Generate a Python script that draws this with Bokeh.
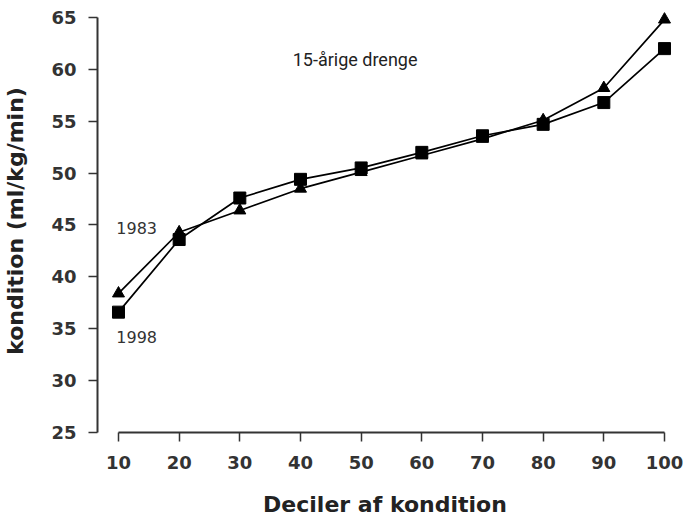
from bokeh.plotting import figure
from bokeh.models import FixedTicker, Range1d, Label
from bokeh.embed import file_html
from bokeh.resources import INLINE

# Data
deciles = [10, 20, 30, 40, 50, 60, 70, 80, 90, 100]
y1983 = [38.4, 44.3, 46.4, 48.5, 50.1, 51.7, 53.3, 55.1, 58.2, 64.8]
y1998 = [36.6, 43.6, 47.6, 49.4, 50.5, 52.0, 53.6, 54.7, 56.8, 62.0]
x_ticks = [10, 20, 30, 40, 50, 60, 70, 80, 90, 100]
y_ticks = [25, 30, 35, 40, 45, 50, 55, 60, 65]
title_text = "15-årige drenge"
x_label = "Deciler af kondition"
y_label = "kondition (ml/kg/min)"

FONT = "DejaVu Sans"
INK = "#222222"

p = figure(width=683, height=522, output_backend="svg", toolbar_location=None,
           x_range=Range1d(6.54, 101.32), y_range=Range1d(25, 65.77),
           min_border_left=97, min_border_right=11, min_border_top=9, min_border_bottom=90)
p.outline_line_color = None
p.xgrid.visible = False
p.ygrid.visible = False
p.background_fill_color = "white"
p.border_fill_color = "white"

# lines and markers
p.line(deciles, y1983, line_color="black", line_width=1.7)
p.line(deciles, y1998, line_color="black", line_width=1.7)
p.scatter(deciles, y1983, marker="triangle", size=12, fill_color="black", line_color="black")
p.scatter(deciles, y1998, marker="square", size=12, fill_color="black", line_color="black")

for ax, ticks in ((p.xaxis[0], x_ticks), (p.yaxis[0], y_ticks)):
    ax.ticker = FixedTicker(ticks=ticks)
    ax.minor_tick_line_color = None
    ax.major_tick_in = 0
    ax.major_tick_out = 9
    ax.major_tick_line_color = "#333333"
    ax.major_tick_line_width = 1.5
    ax.axis_line_color = "#333333"
    ax.axis_line_width = 2
    ax.major_label_text_font = FONT
    ax.major_label_text_font_style = "bold"
    ax.major_label_text_font_size = "18px"
    ax.major_label_text_color = "#333333"
    ax.axis_label_text_font = FONT
    ax.axis_label_text_font_style = "bold"
    ax.axis_label_text_font_size = "22px"
    ax.axis_label_text_color = INK

p.xaxis[0].bounds = (x_ticks[0], x_ticks[-1])
p.yaxis[0].bounds = (y_ticks[0], y_ticks[-1])
p.xaxis[0].axis_label = x_label
p.yaxis[0].axis_label = y_label
p.xaxis[0].major_label_standoff = 14
p.xaxis[0].axis_label_standoff = 20
p.yaxis[0].major_label_standoff = 12
p.yaxis[0].axis_label_standoff = 20

# series labels
p.add_layout(Label(x=13, y=44.7, text="1983", text_font=FONT, text_font_size="16px",
                   text_color="#333333", text_align="center", text_baseline="middle"))
p.add_layout(Label(x=13, y=34.2, text="1998", text_font=FONT, text_font_size="16px",
                   text_color="#333333", text_align="center", text_baseline="middle"))

# title inside the plot
p.add_layout(Label(x=49.0, y=60.95, text=title_text, text_font="Roboto", text_font_size="18px",
                   text_color=INK, text_align="center", text_baseline="middle"))

open("out.html", "w").write(file_html(p, INLINE))
